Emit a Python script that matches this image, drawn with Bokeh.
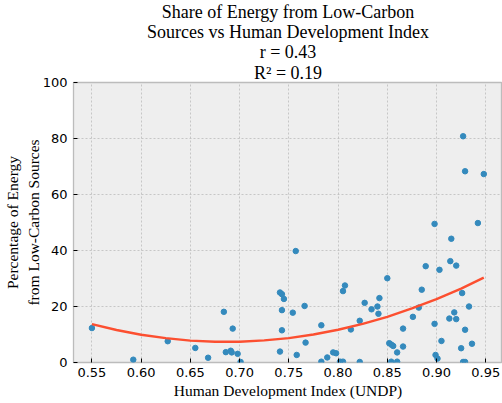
from bokeh.plotting import figure
from bokeh.models import Range1d, FixedTicker, NumeralTickFormatter, Title
from bokeh.embed import file_html
from bokeh.resources import INLINE

# Human Development Index (UNDP) vs share of energy from low-carbon sources (%)
hdi = [0.550, 0.592, 0.627, 0.655, 0.668, 0.684, 0.686, 0.691, 0.692, 0.693,
       0.698, 0.701, 0.741, 0.743, 0.745, 0.743, 0.754, 0.757, 0.766, 0.743,
       0.741, 0.758, 0.767, 0.783, 0.783, 0.789, 0.795, 0.798, 0.802, 0.805,
       0.805, 0.807, 0.813, 0.822, 0.822, 0.827, 0.834, 0.840, 0.842, 0.841,
       0.850, 0.852, 0.854, 0.856, 0.854, 0.860, 0.860, 0.866, 0.866, 0.876,
       0.882, 0.885, 0.889, 0.898, 0.898, 0.899, 0.901, 0.903, 0.905, 0.914,
       0.915, 0.913, 0.918, 0.920, 0.920, 0.926, 0.925, 0.929, 0.933, 0.936,
       0.927, 0.929, 0.942, 0.927, 0.929, 0.948]
low_carbon = [12.3, 1.0, 7.6, 5.2, 1.7, 18.1, 3.7, 4.2, 3.6, 12.1,
              3.1, 0.2, 25.0, 24.4, 22.7, 18.7, 17.8, 39.8, 20.2, 11.5,
              3.9, 2.7, 7.1, 13.3, 0.3, 1.8, 3.6, 3.3, 0.3, 0.3,
              25.5, 27.5, 11.8, 14.9, 0.2, 21.3, 19.0, 20.0, 23.0, 17.4,
              30.1, 6.9, 6.4, 5.9, 0.3, 3.6, 0.3, 12.1, 5.7, 16.3,
              19.6, 26.0, 34.4, 49.5, 13.8, 2.7, 1.4, 33.1, 7.7, 36.2,
              44.2, 15.7, 17.9, 34.6, 15.5, 24.8, 5.1, 11.7, 20.0, 6.7,
              0.2, 0.2, 49.8, 80.8, 68.3, 67.3]

# fitted trend curve
fit_x = [0.550, 0.575, 0.600, 0.625, 0.650, 0.675, 0.700, 0.725, 0.750,
         0.775, 0.800, 0.825, 0.850, 0.875, 0.900, 0.925, 0.948]
fit_y = [13.7, 11.6, 9.9, 8.7, 7.8, 7.4, 7.4, 7.9, 8.7,
         10.0, 11.7, 13.8, 16.3, 19.3, 22.6, 26.4, 30.3]

x_ticks = [0.55, 0.60, 0.65, 0.70, 0.75, 0.80, 0.85, 0.90, 0.95]
y_ticks = [0, 20, 40, 60, 80, 100]

title_lines = ["Share of Energy from Low-Carbon",
               "Sources vs Human Development Index",
               "r = 0.43",
               "R\u00b2 = 0.19"]
x_label = "Human Development Index (UNDP)"
y_label = "Percentage of Energy\nfrom Low-Carbon Sources"

X0, X1 = 0.5313, 0.9670
p = figure(width=502, height=403, output_backend="svg", toolbar_location=None,
           x_range=Range1d(X0, X1), y_range=Range1d(0, 100),
           min_border_left=73, min_border_right=0, min_border_top=82,
           min_border_bottom=41, title=None)

p.background_fill_color = "#eeeeee"
p.border_fill_color = "white"
p.outline_line_color = "#bcbcbc"
p.outline_line_width = 1.3

serif = "Liberation Serif"
for ax in (p.xaxis[0], p.yaxis[0]):
    ax.axis_line_color = None
    ax.major_tick_in = 4
    ax.major_tick_out = 0
    ax.major_tick_line_color = "black"
    ax.minor_tick_line_color = None
    ax.major_label_text_font = "DejaVu Sans"
    ax.major_label_text_font_size = "13px"
    ax.major_label_text_color = "black"
    ax.axis_label_text_font = serif
    ax.axis_label_text_font_size = "15.5px"
    ax.axis_label_text_font_style = "normal"
    ax.axis_label_text_color = "black"

p.xaxis[0].ticker = FixedTicker(ticks=x_ticks)
p.xaxis[0].formatter = NumeralTickFormatter(format="0.00")
p.xaxis[0].major_label_standoff = 5
p.xaxis[0].axis_label = x_label
p.xaxis[0].axis_label_standoff = 2
p.yaxis[0].ticker = FixedTicker(ticks=y_ticks)
p.yaxis[0].major_label_standoff = 6
p.yaxis[0].axis_label = y_label
p.yaxis[0].axis_label_standoff = -2

p.grid.grid_line_color = "#bbbbbb"
p.grid.grid_line_dash = "2 2"
p.grid.grid_line_width = 0.8

p.scatter(hdi, low_carbon, size=5.5, color="#348ABD", line_color="#348ABD")
p.line(fit_x, fit_y, line_color="#FC4F30", line_width=2.4)

# titles stack outward from the plot frame: add bottom line first
title_standoffs = [-2.5, -2.5, -2.5, -0.5]
for txt, so in reversed(list(zip(title_lines, title_standoffs))):
    p.add_layout(Title(text=txt, align="center", text_font=serif, text_font_size="18px",
                       text_font_style="normal", text_color="black", standoff=so), "above")

open("out.html", "w").write(file_html(p, INLINE))
